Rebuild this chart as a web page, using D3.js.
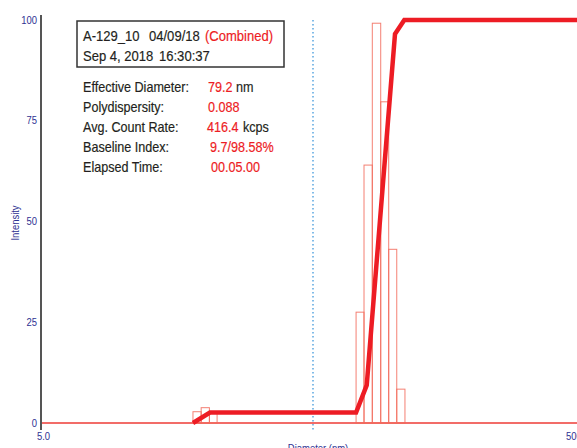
<!DOCTYPE html>
<html><head><meta charset="utf-8">
<script src="https://cdn.jsdelivr.net/npm/d3@7"></script>
<style>
html,body{margin:0;padding:0;background:#fff;}
svg{display:block;}
</style></head>
<body>
<svg id="chart" width="577" height="448"></svg>
<script>
// ---- data ----
const binLo = [18.1, 19.4, 20.8, 72.0, 77.0, 82.6, 88.7, 94.9, 101.6];
const binHi = [19.4, 20.8, 22.2, 77.0, 82.6, 88.7, 94.9, 101.6, 108.9];
const intensity = [2.8, 3.8, 2.6, 27.5, 64, 99.2, 79.7, 43.1, 8.4];
const cumDiameter = [18.1, 20.9, 72.0, 78.8, 100.1, 108.3, 500];
const cumValue = [0, 2.6, 2.6, 9.4, 96.5, 100, 100];
const yTicks = [0, 25, 50, 75, 100];
const xTicks = [5, 500];
const xTickLabels = ["5.0", "500"];
const refDiameter = 50; // dotted reference line (log midpoint)
const headerTexts = ["A-129_10", "04/09/18", "(Combined)", "Sep 4, 2018", "16:30:37"];
const statLabels = ["Effective Diameter:", "Polydispersity:", "Avg. Count Rate:", "Baseline Index:", "Elapsed Time:"];
const statValues = ["79.2", "0.088", "416.4", "9.7/98.58%", "00.05.00"];
const statUnits = ["nm", "", "kcps", "", ""];

// ---- chart ----
const svg = d3.select("#chart");
const x = d3.scaleLog().domain([5, 500]).range([41, 585]);
const y = d3.scaleLinear().domain([0, 100]).range([423, 20]);
const navy = "#2e3192";
const dark = "#231f20";
const red = "#ed1c24";
const font = "'Liberation Sans', Arial, sans-serif";
const SX = 0.9; // horizontal condensation to mimic a condensed face

function condText(g, px, py, str, size, color, anchor, heavy) {
  const t = g.append("text").attr("x", 0).attr("y", 0)
    .attr("font-family", font).attr("font-size", size).attr("fill", color)
    .attr("text-anchor", anchor || "start")
    .attr("transform", `translate(${px},${py}) scale(${SX},1)`)
    .text(str);
  if (heavy) t.attr("stroke", color).attr("stroke-width", 0.18);
  return t;
}

// red baseline
svg.append("line").attr("x1", x(5)).attr("x2", x(500)).attr("y1", y(0)).attr("y2", y(0))
  .attr("stroke", "#ee3b36").attr("stroke-width", 1.5);

// dotted reference line
svg.append("line").attr("x1", x(refDiameter)).attr("x2", x(refDiameter)).attr("y1", y(100)).attr("y2", 432)
  .attr("stroke", "#2f8fd8").attr("stroke-width", 1.2).attr("stroke-dasharray", "1.5,2.5");

// histogram bars
svg.append("g").selectAll("rect").data(intensity).join("rect")
  .attr("x", (d, i) => x(binLo[i]))
  .attr("width", (d, i) => x(binHi[i]) - x(binLo[i]))
  .attr("y", d => y(d))
  .attr("height", d => y(0) - y(d))
  .attr("fill", "none").attr("stroke", "#f26a5a").attr("stroke-width", 1)
  .attr("stroke-opacity", 0.85);

// cumulative line
const cum = cumDiameter.map((d, i) => [d, cumValue[i]]);
svg.append("path").datum(cum)
  .attr("d", d3.line().x(d => x(d[0])).y(d => y(d[1])))
  .attr("fill", "none").attr("stroke", red).attr("stroke-width", 4.5)
  .attr("stroke-linejoin", "miter");

// y axis
const yAxis = svg.append("g").attr("transform", "translate(41,0)")
  .call(d3.axisLeft(y).tickValues(yTicks).tickSize(0).tickPadding(4));
yAxis.select(".domain").attr("stroke", "#555").attr("stroke-width", 2).attr("d", "M0,15V430");
yAxis.selectAll(".tick text").each(function(d) {
  const ty = y(d);
  d3.select(this).remove();
  condText(svg, 37, ty + 3.5, String(d), 10.5, navy, "end");
});

// x axis labels
const xl = svg.append("g");
xTicks.forEach((d, i) => {
  condText(xl, i === 0 ? x(d) - 4 : x(d) - 19, 439.5, xTickLabels[i], 10.5, navy, "start");
});
condText(svg, 318, 451.5, "Diameter (nm)", 10.5, navy, "middle");
svg.append("text").attr("transform", "translate(18.5,223) rotate(-90) scale(0.9,1)").attr("text-anchor", "middle")
  .attr("fill", navy).attr("font-family", font).attr("font-size", 10.5).text("Intensity");

// header box
svg.append("rect").attr("x", 77).attr("y", 21).attr("width", 207).attr("height", 46)
  .attr("fill", "#fff").attr("stroke", "#333").attr("stroke-width", 1.5);
const hx = [83, 149, 205, 83, 159];
const hy = [41, 41, 41, 61, 61];
const hc = [dark, dark, red, dark, dark];
headerTexts.forEach((s, i) => condText(svg, hx[i], hy[i], s, 14.5, hc[i], "start", true));

// stats
const vx = [208, 208, 207, 210, 211];
const ux = [236, 0, 243, 0, 0];
statLabels.forEach((lab, i) => {
  const yy = 91.5 + i * 20;
  condText(svg, 83, yy, lab, 14, dark, "start", true);
  condText(svg, vx[i], yy, statValues[i], 14, red, "start", true);
  if (statUnits[i]) condText(svg, ux[i], yy, statUnits[i], 14, dark, "start", true);
});
</script>
</body></html>
